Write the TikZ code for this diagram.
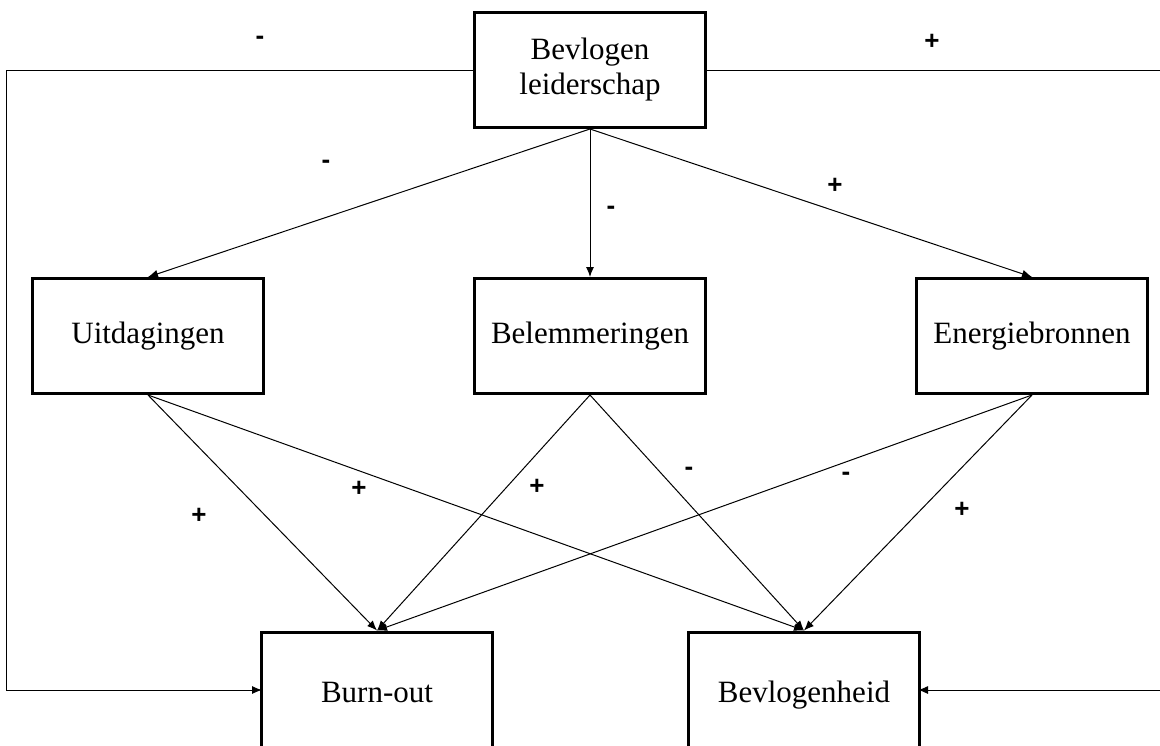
\documentclass[tikz,border=0pt]{standalone}
\usepackage{fontspec}
\setmainfont{Liberation Serif}
\newfontfamily\signfont{Liberation Sans}
\usetikzlibrary{arrows.meta}

\begin{document}
\begin{tikzpicture}[x=0.5pt, y=-0.5pt, node distance=133pt,
    box/.style = {draw, line width=1.5pt, minimum width=115.5pt, minimum height=57.5pt, inner sep=0pt, align=center, font=\fontsize{15.5}{17.5}\selectfont},
    endbox/.style = {box, minimum height=63pt, text height=11pt, text depth=4pt},
    sign/.style = {inner sep=0pt, font=\signfont\bfseries\fontsize{13}{13}\selectfont},
    arr/.style = {-{Latex[length=5pt, width=4pt]}, line width=0.5pt}]
    \useasboundingbox (0,0) rectangle (1160,745);
    \node[box] (L) at (590,70) {Bevlogen\\leiderschap};
    \node[box] (B) [below of=L] {Belemmeringen};
    \node[box] (U) [left of=B, node distance=221pt] {Uitdagingen};
    \node[box] (E) [right of=B, node distance=221pt] {Energiebronnen};
    \node[endbox] (O) at (377,695) {Burn-out};
    \node[endbox] (V) at (804,695) {Bevlogenheid};
    \coordinate (oin) at (262,690);
    \coordinate (vin) at (918,690);

    \path[arr] (L.south) edge (U.north) edge (B.north) edge (E.north);
    \path[arr] (U.south) edge (O.north) edge (V.north);
    \path[arr] (B.south) edge (O.north) edge (V.north);
    \path[arr] (E.south) edge (O.north) edge (V.north);
    \draw[arr] (L.west) -- ++(-467,0) |- (oin);
    \draw[arr] (L.east) -- ++(457,0) |- (vin);

    % signs
    \node[sign] (s1) at (260,40) {-};
    \node[sign] (s2) at (932,42) {+};
    \node[sign] (s3) at (326,164) {-};
    \node[sign] (s4) at (611,210) {-};
    \node[sign] (s5) at (835,186) {+};
    \node[sign] (s6) at (199,516) {+};
    \node[sign] (s7) at (359,489) {+};
    \node[sign] (s8) at (537,487) {+};
    \node[sign] (s9) at (689,471) {-};
    \node[sign] (s10) at (846,476) {-};
    \node[sign] (s11) at (962,510) {+};
\end{tikzpicture}
\end{document}
